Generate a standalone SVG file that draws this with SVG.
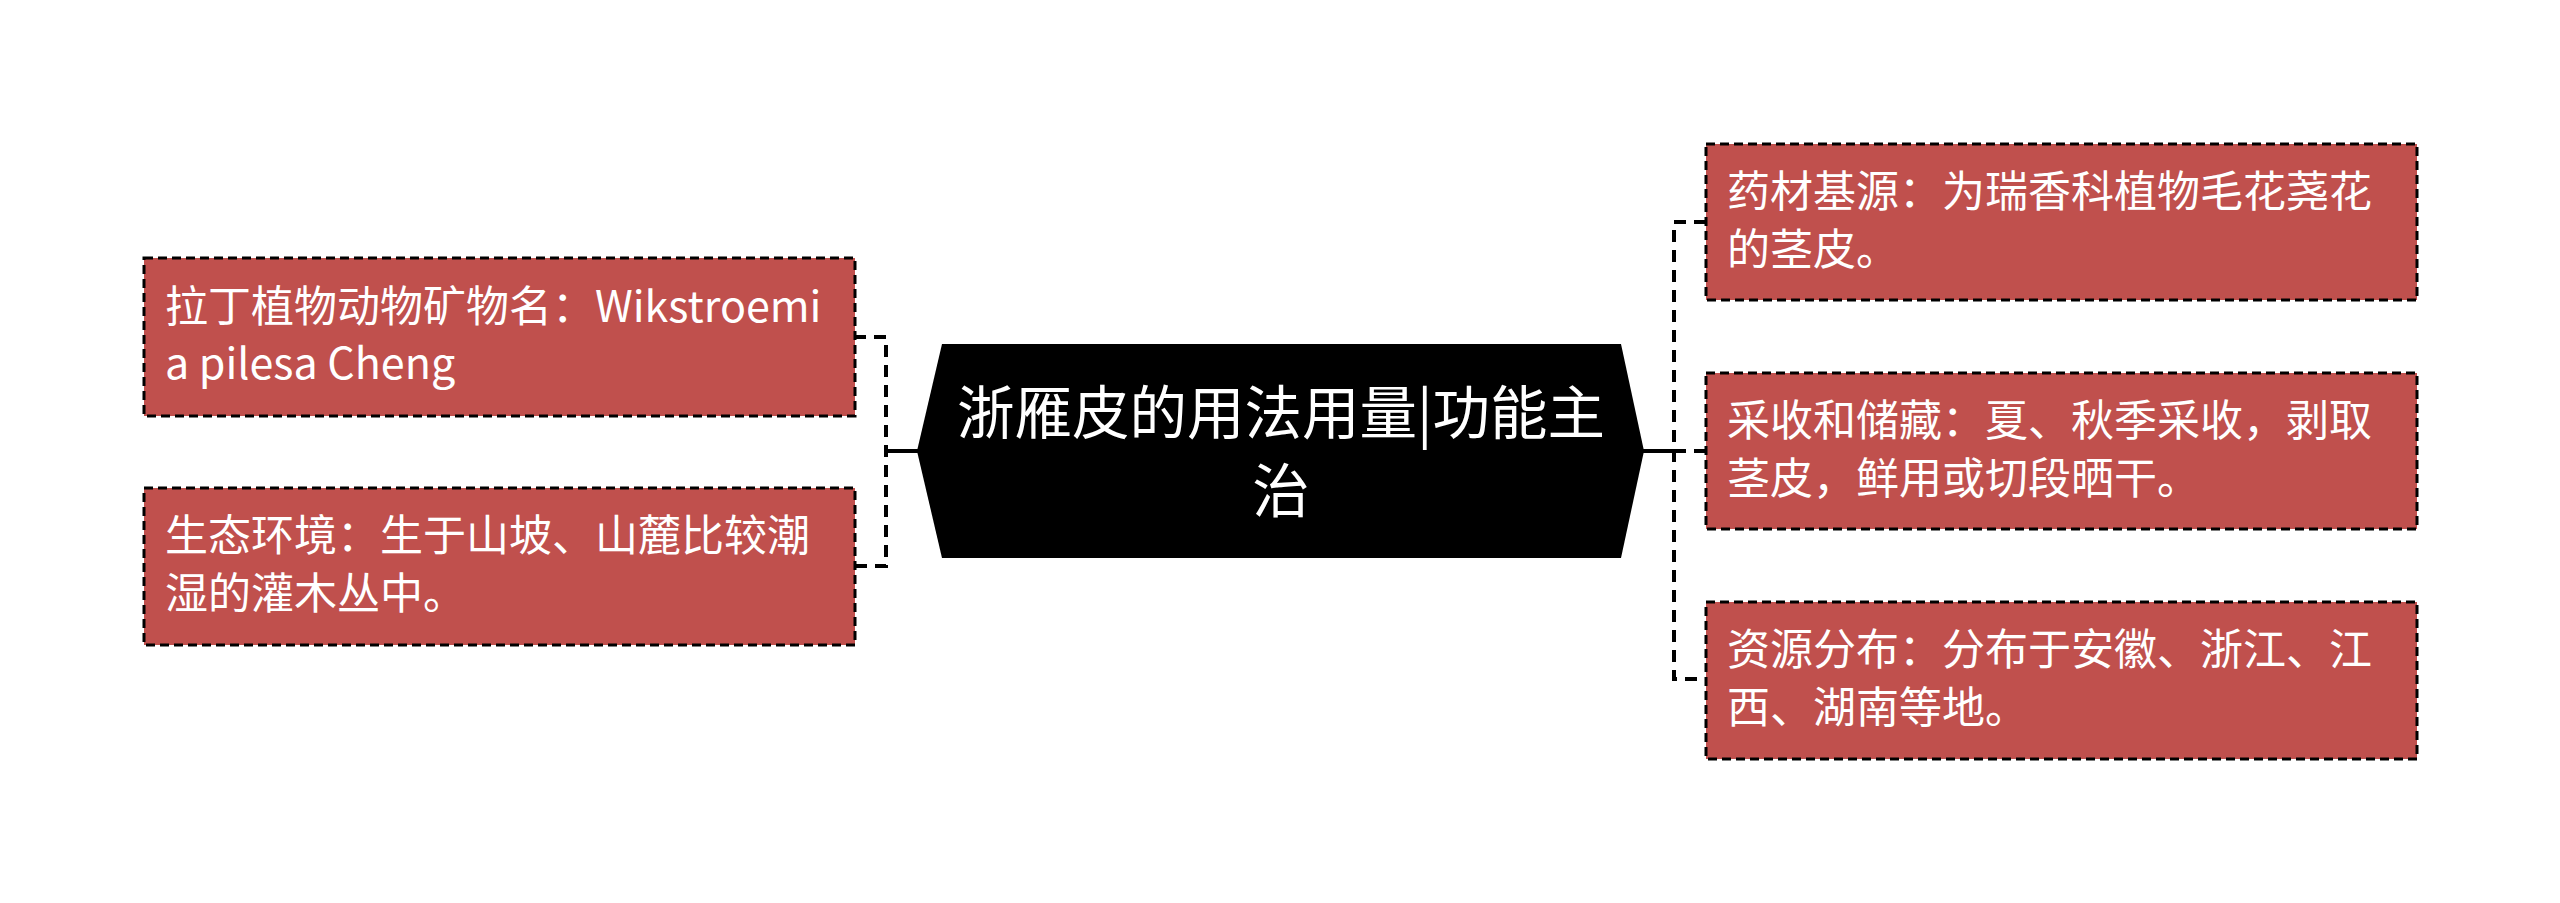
<svg xmlns="http://www.w3.org/2000/svg" width="2560" height="903" viewBox="0 0 2560 903">
<style>
.box{fill:#C0504D;stroke:#000;stroke-width:3;stroke-dasharray:9 5}
.t{font-family:"Microsoft YaHei","Noto Sans CJK SC","Noto Sans",sans-serif;font-size:43px;fill:#fff}
.ct{font-family:"Microsoft YaHei","Noto Sans CJK SC","Noto Sans",sans-serif;font-size:57.5px;fill:#fff;text-anchor:middle}
.br{fill:none;stroke:#000;stroke-width:4;stroke-dasharray:12 8}
.sl{fill:none;stroke:#000;stroke-width:4}
</style>
<rect width="2560" height="903" fill="#fff"/>
<g id="connectors">
<path class="br" d="M854 337 H886 V566 H854"/>
<path class="sl" d="M886 451 H918"/>
<path class="br" d="M1706 222 H1674 V679 H1706"/>
<path class="br" d="M1674 451 H1706"/>
<path class="sl" d="M1642 451 H1686"/>
</g>
<g id="center">
<polygon points="917,451 942,344 1621,344 1644,451 1621,558 942,558" fill="#000"/>
<text class="ct" x="1281" y="434">浙雁皮的用法用量|功能主</text>
<text class="ct" x="1281" y="512">治</text>
</g>
<g id="left1">
<rect class="box" x="144" y="258" width="711" height="158"/>
<text class="t" x="165" y="322">拉丁植物动物矿物名：Wikstroemi</text>
<text class="t" x="165" y="379">a pilesa Cheng</text>
</g>
<g id="left2">
<rect class="box" x="144" y="488" width="711" height="157"/>
<text class="t" x="165" y="551">生态环境：生于山坡、山麓比较潮</text>
<text class="t" x="165" y="609">湿的灌木丛中。</text>
</g>
<g id="right1">
<rect class="box" x="1706" y="144" width="711" height="156"/>
<text class="t" x="1727" y="207">药材基源：为瑞香科植物毛花荛花</text>
<text class="t" x="1727" y="265">的茎皮。</text>
</g>
<g id="right2">
<rect class="box" x="1706" y="373" width="711" height="156"/>
<text class="t" x="1727" y="436">采收和储藏：夏、秋季采收，剥取</text>
<text class="t" x="1727" y="494">茎皮，鲜用或切段晒干。</text>
</g>
<g id="right3">
<rect class="box" x="1706" y="602" width="711" height="157"/>
<text class="t" x="1727" y="665">资源分布：分布于安徽、浙江、江</text>
<text class="t" x="1727" y="723">西、湖南等地。</text>
</g>
</svg>
